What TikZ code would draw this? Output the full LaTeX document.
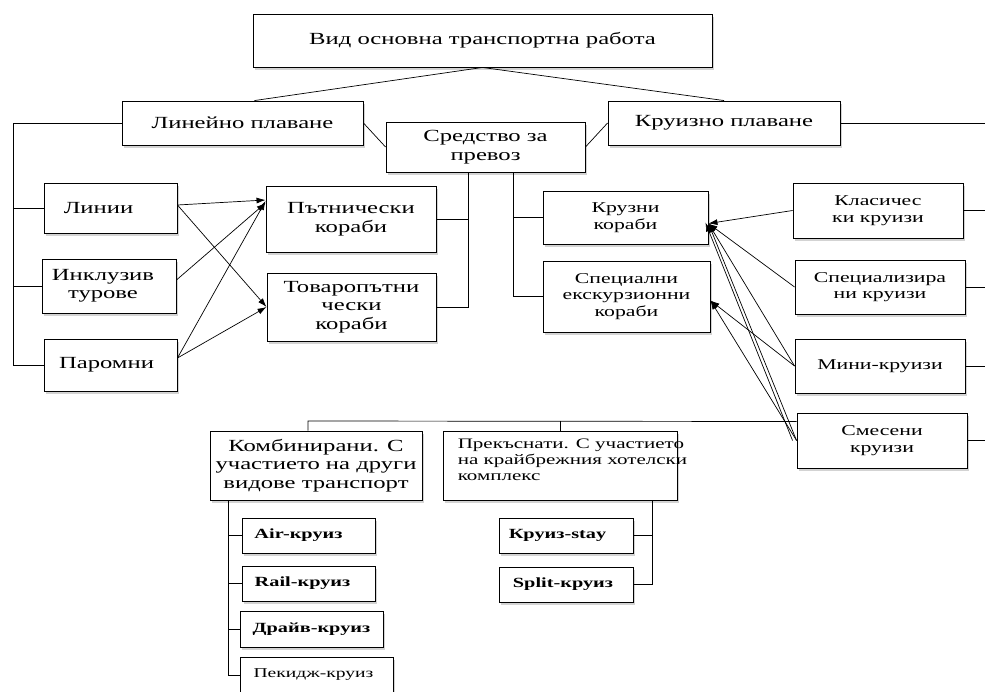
\documentclass[tikz,border=0pt]{standalone}
\usepackage{fontspec}
\setmainfont{Liberation Serif}[FakeStretch=1.45]
\usetikzlibrary{shadows, arrows.meta}

\begin{document}
\begin{tikzpicture}[x=1pt, y=-1pt,
    box/.style={draw, line width=0.9pt, fill=white, inner sep=0pt, align=center,
        drop shadow={shadow xshift=2pt, shadow yshift=-2.5pt, opacity=0.35}},
    big/.style={font=\fontsize{17}{18.5}\selectfont},
    bbig/.style={font=\fontsize{14}{16}\selectfont\bfseries},
    mid/.style={font=\fontsize{15}{16.5}\selectfont},
    sml/.style={font=\fontsize{14.5}{16}\selectfont},
    ln/.style={line width=0.7pt},
    arr/.style={line width=0.7pt, -{Latex[length=9pt, width=6pt]}}]
    \useasboundingbox (0,0) rectangle (985,691);

    % upper level
    \node[box, big, minimum width=459pt, minimum height=53pt] (top) at (482.5,40.5) {Вид основна транспортна работа};
    \node[box, big, minimum width=241pt, minimum height=44pt] (lin) at (242.5,123) {Линейно плаване};
    \node[box, big, minimum width=199pt, minimum height=50pt] (sred) at (485.5,147) {Средство за\\превоз};
    \node[box, big, minimum width=232pt, minimum height=44pt] (kru) at (724,123) {Круизно плаване};

    % linear shipping
    \node[box, big, minimum width=133pt, minimum height=50pt] (linii) at (110.5,208) {Линии\hspace*{24pt}};
    \node[box, big, minimum width=134pt, minimum height=54pt] (inkl) at (109,286) {Инклузив\hspace*{12pt}\\турове\hspace*{12pt}};
    \node[box, big, minimum width=133pt, minimum height=52pt] (parom) at (110.5,365) {Паромни\hspace*{8pt}};
    \node[box, big, minimum width=170pt, minimum height=66pt] (putn) at (351,219) {Пътнически\\кораби};
    \node[box, big, minimum width=169pt, minimum height=68pt] (tovar) at (351.5,307) {Товаропътни\\чески\\кораби};

    % cruise ships
    \node[box, mid, minimum width=165pt, minimum height=53pt] (kruzni) at (625.5,217.5) {Крузни\\кораби};
    \node[box, mid, minimum width=167pt, minimum height=71pt] (spec) at (626.5,296.5) {Специални\\екскурзионни\\кораби};
    \node[box, mid, minimum width=170pt, minimum height=55pt] (klas) at (878,210.5) {Класичес\\ки круизи};
    \node[box, mid, minimum width=170pt, minimum height=54pt] (speciz) at (880,287) {Специализира\\ни круизи};
    \node[box, mid, minimum width=170pt, minimum height=54pt] (mini) at (880,366) {Мини-круизи};
    \node[box, mid, minimum width=170pt, minimum height=55pt] (smes) at (882,440.5) {Смесени\\круизи};

    % lower level
    \node[box, big, minimum width=212pt, minimum height=69pt] (komb) at (316,465.5) {Комбинирани. С\\участието на други\\видове транспорт};
    \node[box, minimum width=234pt, minimum height=69pt] (prek) at (560,465.5) {};
    \node[sml, anchor=north west, align=left, inner sep=0pt] (prektxt) at ([xshift=15pt, yshift=-8pt]prek.north west)
        {Прекъснати. С участието\\на крайбрежния хотелски\\комплекс};
    \node[box, bbig, minimum width=133pt, minimum height=35pt] (air) at (308.5,535.5) {Air-круиз\hspace*{20pt}};
    \node[box, bbig, minimum width=133pt, minimum height=35pt] (rail) at (308.5,583.5) {Rail-круиз\hspace*{12pt}};
    \node[box, bbig, minimum width=143pt, minimum height=36pt] (drive) at (311.5,629) {Драйв-круиз};
    \node[box, font=\fontsize{13.5}{15}\selectfont, minimum width=153pt, minimum height=36pt] (pek) at (316.5,675) {Пекидж-круиз\hspace*{6pt}};
    \node[box, bbig, minimum width=134pt, minimum height=35pt] (stay) at (566,535.5) {Круиз-stay\hspace*{17pt}};
    \node[box, bbig, minimum width=134pt, minimum height=35pt] (split) at (566,584.5) {Split-круиз\hspace*{6pt}};

    % bus lines
    \coordinate (lbus) at (13,0);
    \coordinate (mbus) at (468,0);
    \coordinate (rbus) at (513,0);
    \coordinate (redge) at (985,0);
    \coordinate (bbus) at (308,421);
    \coordinate (kbus) at (228,0);
    \coordinate (pbus) at (652,0);

    \draw[ln] (top.south) -- ([xshift=12pt]lin.north);
    \draw[ln] (top.south) -- (kru.north);
    \draw[ln] (lin.east) -- (sred.west);
    \draw[ln] (kru.west) -- (sred.east);

    \draw[ln] (lin.west) -- (lin.west -| lbus) -- (lbus |- parom.west) -- (parom.west);
    \draw[ln] (lbus |- linii.west) -- (linii.west);
    \draw[ln] (lbus |- inkl.west) -- (inkl.west);

    \draw[ln] (mbus |- sred.south) -- (mbus |- tovar.east) -- (tovar.east);
    \draw[ln] (putn.east) -- (mbus |- putn.east);
    \draw[ln] (rbus |- sred.south) -- (rbus |- spec.west) -- (spec.west);
    \draw[ln] (kruzni.west) -- (rbus |- kruzni.west);

    \draw[ln] (kru.east) -- (redge |- kru.east);
    \foreach \n in {klas, speciz, mini, smes}
        \draw[ln] (\n.east) -- (redge |- \n.east);

    \draw[ln] (bbus |- komb.north) -- (bbus) -- ([yshift=19pt]smes.west);
    \draw[ln] (prek.north) -- (prek.north |- bbus);
    \draw[ln] (komb.south -| kbus) -- (kbus |- pek.west) -- (pek.west);
    \foreach \n in {air, rail, drive}
        \draw[ln] (kbus |- \n.west) -- (\n.west);
    \draw[ln] (prek.south -| pbus) -- (pbus |- split.east) -- (split.east);
    \draw[ln] (stay.east) -- (pbus |- stay.east);

    % arrows to ship types
    \draw[arr] ([yshift=3pt]linii.east) -- ([yshift=19pt]putn.west);
    \draw[arr] ([yshift=3pt]linii.east) -- (tovar.west);
    \draw[arr] ([yshift=6pt]inkl.east) -- ([yshift=16pt]putn.west);
    \draw[arr] ([yshift=7pt]parom.east) -- ([yshift=18pt]putn.west);
    \draw[arr] ([yshift=7pt]parom.east) -- (tovar.west);

    \draw[arr] (klas.west) -- ([yshift=-6pt]kruzni.east);
    \draw[arr] (speciz.west) -- ([yshift=-6pt]kruzni.east);
    \draw[arr] (mini.west) -- ([yshift=-6pt]kruzni.east);
    \draw[arr] (smes.west) -- ([yshift=-6pt]kruzni.east);
    \draw[arr] ([xshift=-4pt]smes.west) -- ([xshift=-3pt, yshift=-5pt]kruzni.east);
    \draw[arr] (mini.west) -- ([yshift=-4pt]spec.east);
    \draw[arr] (smes.west) -- ([yshift=-4pt]spec.east);
\end{tikzpicture}
\end{document}
